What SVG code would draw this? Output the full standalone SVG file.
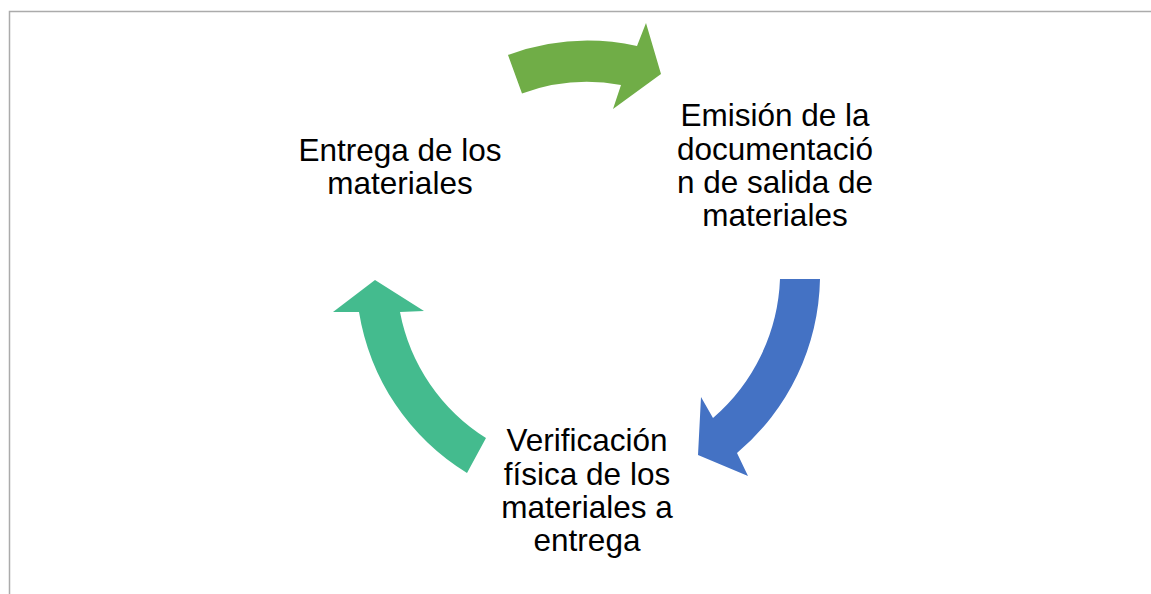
<svg xmlns="http://www.w3.org/2000/svg" width="1151" height="594" viewBox="0 0 1151 594">
<style>
.lbl{font-family:"Liberation Sans",Arial,sans-serif;font-size:31.5px;fill:#000;text-anchor:middle}
.frame{fill:#fff;stroke:#ababab;stroke-width:1.5}
</style>
<rect x="0" y="0" width="1151" height="594" fill="#fff"/>
<rect class="frame" x="9.5" y="11.5" width="1160" height="600"/>
<g id="connectors">
<path id="arrow-green" fill="#70AD47" d="M508,55 A231,231 0 0 1 637,46 L646,23 L661,74 L613,109 L621,85 A190,190 0 0 0 522,93.5 Z"/>
<path id="arrow-blue" fill="#4472C4" d="M820,279 A233,233 0 0 1 737,453 L748,476 L698,455 L701,397 L713,418 A193,193 0 0 0 780,279 Z"/>
<path id="arrow-teal" fill="#44BB8E" d="M467,473 A232,232 0 0 1 359,312 L333,312 L375,280 L424,311 L400,312 A191,191 0 0 0 486,438 Z"/>
</g>
<g id="node-emision">
<text class="lbl" x="775" y="126">Emisión de la</text>
<text class="lbl" x="775" y="160">documentació</text>
<text class="lbl" x="775" y="193">n de salida de</text>
<text class="lbl" x="775" y="226">materiales</text>
</g>
<g id="node-verificacion">
<text class="lbl" x="587" y="451">Verificación</text>
<text class="lbl" x="587" y="485">física de los</text>
<text class="lbl" x="587" y="518">materiales a</text>
<text class="lbl" x="587" y="551">entrega</text>
</g>
<g id="node-entrega">
<text class="lbl" x="400" y="161">Entrega de los</text>
<text class="lbl" x="400" y="194">materiales</text>
</g>
</svg>
